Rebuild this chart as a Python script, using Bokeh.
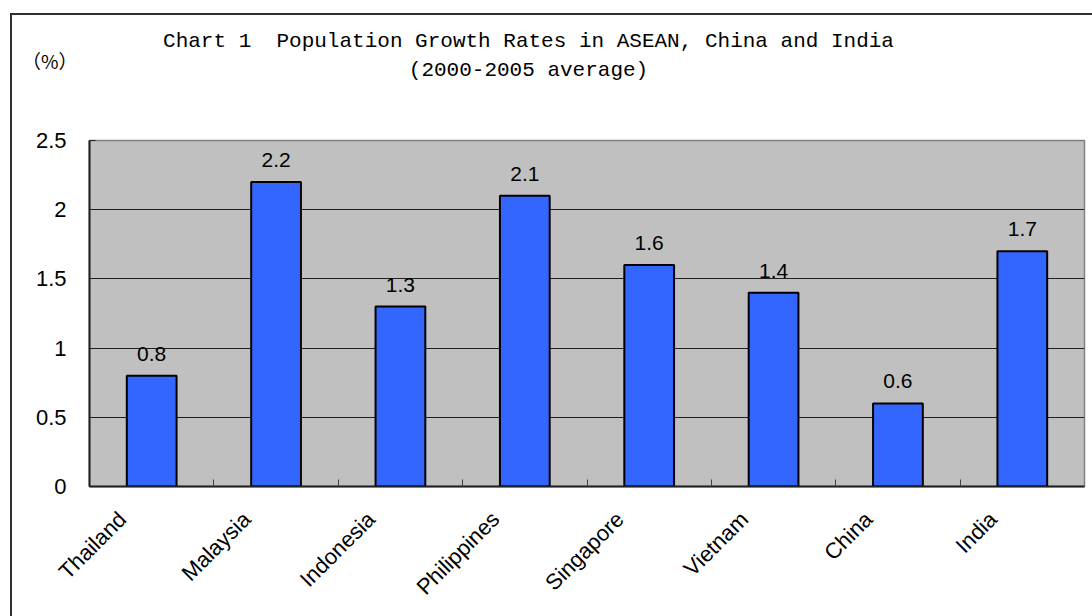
import math
from bokeh.plotting import figure
from bokeh.layouts import column
from bokeh.models import Range1d, LinearAxis, FixedTicker, ColumnDataSource
from bokeh.core.properties import value
from bokeh.embed import file_html
from bokeh.resources import INLINE

# ---- data ----
countries = ["Thailand", "Malaysia", "Indonesia", "Philippines", "Singapore", "Vietnam", "China", "India"]
growth = [0.8, 2.2, 1.3, 2.1, 1.6, 1.4, 0.6, 1.7]
y_ticks = [0, 0.5, 1, 1.5, 2, 2.5]
y_tick_labels = ["0", "0.5", "1", "1.5", "2", "2.5"]
title_line1 = "Chart 1 \u00a0Population Growth Rates in ASEAN, China and India"
title_line2 = "(2000-2005 average)"
unit_label = "（%）"

n = len(countries)
centers = [i + 0.5 for i in range(n)]
label_pos = [c - 0.235 for c in centers]   # rotated labels end left of the bar centre
src = ColumnDataSource(dict(x=centers, y=growth, lab=["%.1f" % v for v in growth]))

W = 1080
HEAD = 105
FRAME_L, FRAME_R = 89, 1084   # page pixels of the plot frame (shared by both rows)

# ---- header (titles) ----
hf = figure(width=W, height=HEAD, x_range=Range1d(FRAME_L, FRAME_R), y_range=Range1d(HEAD, 0),
            output_backend="svg", toolbar_location=None, min_border=0,
            min_border_left=77, min_border_right=8,
            x_axis_location=None, outline_line_color=None)
hf.grid.visible = False
hf.background_fill_color = "white"
hf.border_fill_color = "white"
hy = hf.yaxis[0]
hy.ticker = FixedTicker(ticks=[45])
hy.major_label_overrides = {45: unit_label}
hy.major_tick_line_color = None
hy.minor_tick_line_color = None
hy.axis_line_color = None
hy.major_label_text_font = "Noto Sans CJK JP"
hy.major_label_text_font_size = "19px"
hy.major_label_text_color = "black"
hy.major_label_standoff = 6
hf.text(x=[528], y=[26], text=[title_line1], text_align="center", text_baseline="middle",
        text_font=value("Liberation Mono"), text_font_size="21px", text_color="black")
hf.text(x=[528], y=[55], text=[title_line2], text_align="center", text_baseline="middle",
        text_font=value("Liberation Mono"), text_font_size="21px", text_color="black")

# ---- main chart ----
p = figure(x_range=Range1d(0, n), y_range=Range1d(0, 2.5), width=W, height=601 - HEAD,
           output_backend="svg", toolbar_location=None, x_axis_location=None,
           min_border_left=77, min_border_right=8, min_border_top=20, min_border_bottom=130)
p.background_fill_color = "#C0C0C0"
p.border_fill_color = "white"
p.outline_line_color = "#808080"
p.outline_line_width = 1.5

# boundary ticks axis (category separators)
bounds = list(range(1, n))
bax = LinearAxis(ticker=FixedTicker(ticks=bounds),
                 major_label_overrides={b: "" for b in bounds},
                 major_tick_in=7, major_tick_out=0, major_tick_line_color="#404040",
                 minor_tick_line_color=None, axis_line_color="#202020", axis_line_width=2,
                 major_label_standoff=0)
p.add_layout(bax, "below")
cax = LinearAxis(ticker=FixedTicker(ticks=label_pos),
                 major_label_overrides={c: name for c, name in zip(label_pos, countries)},
                 major_tick_line_color=None, minor_tick_line_color=None, axis_line_color=None,
                 major_label_orientation=math.pi / 4,
                 major_label_text_font="Liberation Sans",
                 major_label_text_font_size="22px", major_label_text_color="black",
                 major_label_standoff=23)
p.add_layout(cax, "below")

ya = p.yaxis[0]
ya.ticker = FixedTicker(ticks=y_ticks)
ya.major_label_overrides = {t: l for t, l in zip(y_ticks, y_tick_labels)}
ya.major_tick_in = 6
ya.major_tick_out = 0
ya.minor_tick_line_color = None
ya.axis_line_color = "#202020"
ya.axis_line_width = 2
ya.major_tick_line_color = "#202020"
ya.major_label_text_font = "Liberation Sans"
ya.major_label_text_font_size = "22px"
ya.major_label_text_color = "black"
ya.major_label_standoff = 23

p.xgrid.grid_line_color = None
p.ygrid.grid_line_color = "#202020"
p.ygrid.grid_line_width = 1
p.ygrid.ticker = FixedTicker(ticks=y_ticks)

p.vbar(x="x", top="y", width=0.4, bottom=0, source=src, fill_color="#3366FF",
       line_color="black", line_width=2)
p.text(x="x", y="y", text="lab", source=src, y_offset=-15, text_align="center",
       text_baseline="bottom", text_font=value("Liberation Sans"), text_font_size="21px",
       text_color="black")

lay = column(hf, p, spacing=0)
lay.styles = {"margin-left": "10px", "margin-top": "13px",
              "border-left": "2px solid #303030", "border-top": "2px solid #303030"}

open("out.html", "w").write(file_html(lay, INLINE))
